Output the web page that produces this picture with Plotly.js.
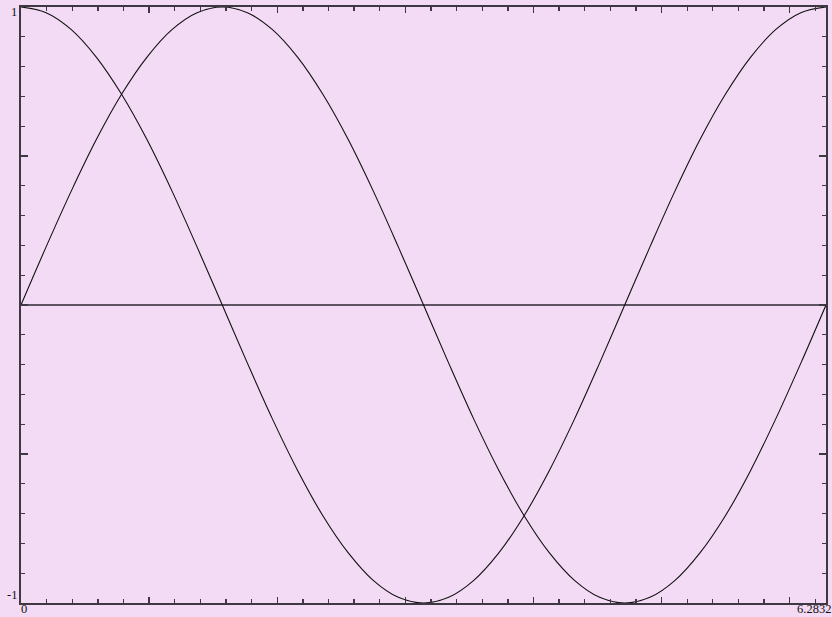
<!DOCTYPE html>
<html>
<head>
<meta charset="utf-8">
<script src="https://cdn.plot.ly/plotly-3.0.1.min.js"></script>
<style>
  html, body { margin: 0; padding: 0; background: #f4dbf5; }
  #chart { width: 832px; height: 617px; }
</style>
</head>
<body>
<div id="chart"></div>
<script>
const xValues = [0, 0.196, 0.393, 0.589, 0.785, 0.982, 1.178, 1.374, 1.571, 1.767, 1.963, 2.160, 2.356, 2.553, 2.749, 2.945, 3.142,
                 3.338, 3.534, 3.731, 3.927, 4.123, 4.320, 4.516, 4.712, 4.909, 5.105, 5.301, 5.498, 5.694, 5.890, 6.087, 6.2832];
const sinValues = [0, 0.195, 0.383, 0.556, 0.707, 0.831, 0.924, 0.981, 1, 0.981, 0.924, 0.831, 0.707, 0.556, 0.383, 0.195, 0,
                   -0.195, -0.383, -0.556, -0.707, -0.831, -0.924, -0.981, -1, -0.981, -0.924, -0.831, -0.707, -0.556, -0.383, -0.195, 0];
const cosValues = [1, 0.981, 0.924, 0.831, 0.707, 0.556, 0.383, 0.195, 0, -0.195, -0.383, -0.556, -0.707, -0.831, -0.924, -0.981, -1,
                   -0.981, -0.924, -0.831, -0.707, -0.556, -0.383, -0.195, 0, 0.195, 0.383, 0.556, 0.707, 0.831, 0.924, 0.981, 1];
const xRange = [0, 6.2832];
const yRange = [-1, 1];
const xTickLabels = ['0', '6.2832'];
const yTickLabels = ['-1', '1'];

const bg = '#f4dbf5';
const axisColor = '#3d3842';
const labelFont = {family: 'Liberation Serif', size: 12.5, color: '#111'};

const traces = [
  {x: xValues, y: sinValues, mode: 'lines', line: {color: '#111', width: 1.1, shape: 'spline'}, hoverinfo: 'skip'},
  {x: xValues, y: cosValues, mode: 'lines', line: {color: '#111', width: 1.1, shape: 'spline'}, hoverinfo: 'skip'}
];

const layout = {
  width: 832, height: 617,
  margin: {l: 21, r: 6, t: 7, b: 14, pad: 0},
  paper_bgcolor: bg, plot_bgcolor: bg,
  showlegend: false,
  xaxis: {
    range: xRange, showgrid: false, zeroline: false,
    showline: true, linecolor: axisColor, linewidth: 1.8, mirror: 'ticks',
    ticks: 'inside', tickvals: [0, 1, 2, 3, 4, 5, 6], ticklen: 6, tickwidth: 1.3, tickcolor: axisColor,
    showticklabels: false,
    minor: {ticks: 'inside', tick0: 0, dtick: 0.2, ticklen: 4, tickwidth: 1.3, tickcolor: axisColor, showgrid: false}
  },
  yaxis: {
    range: yRange, showgrid: false,
    zeroline: true, zerolinecolor: '#5e5463', zerolinewidth: 1.4,
    showline: true, linecolor: axisColor, linewidth: 1.8, mirror: 'ticks',
    ticks: 'inside', tickvals: [-1, -0.5, 0, 0.5, 1], ticklen: 7, tickwidth: 1.3, tickcolor: axisColor,
    showticklabels: false,
    minor: {ticks: 'inside', tick0: 0, dtick: 0.1, ticklen: 4, tickwidth: 1.3, tickcolor: axisColor, showgrid: false}
  },
  annotations: [
    {text: xTickLabels[0], x: xRange[0], xref: 'x', y: 0, yref: 'paper', xanchor: 'left', yanchor: 'bottom',
     showarrow: false, font: labelFont, borderpad: 0, xshift: -1, yshift: -14},
    {text: xTickLabels[1], x: xRange[1], xref: 'x', y: 0, yref: 'paper', xanchor: 'right', yanchor: 'bottom',
     showarrow: false, font: labelFont, borderpad: 0, xshift: 6, yshift: -14},
    {text: yTickLabels[1], x: 0, xref: 'paper', y: 1, yref: 'paper', xanchor: 'right', yanchor: 'top',
     showarrow: false, font: labelFont, borderpad: 0, xshift: -3, yshift: 3},
    {text: yTickLabels[0], x: 0, xref: 'paper', y: 0, yref: 'paper', xanchor: 'right', yanchor: 'bottom',
     showarrow: false, font: labelFont, borderpad: 0, xshift: -3, yshift: 0}
  ]
};

Plotly.newPlot('chart', traces, layout, {staticPlot: true, displayModeBar: false});
</script>
</body>
</html>
